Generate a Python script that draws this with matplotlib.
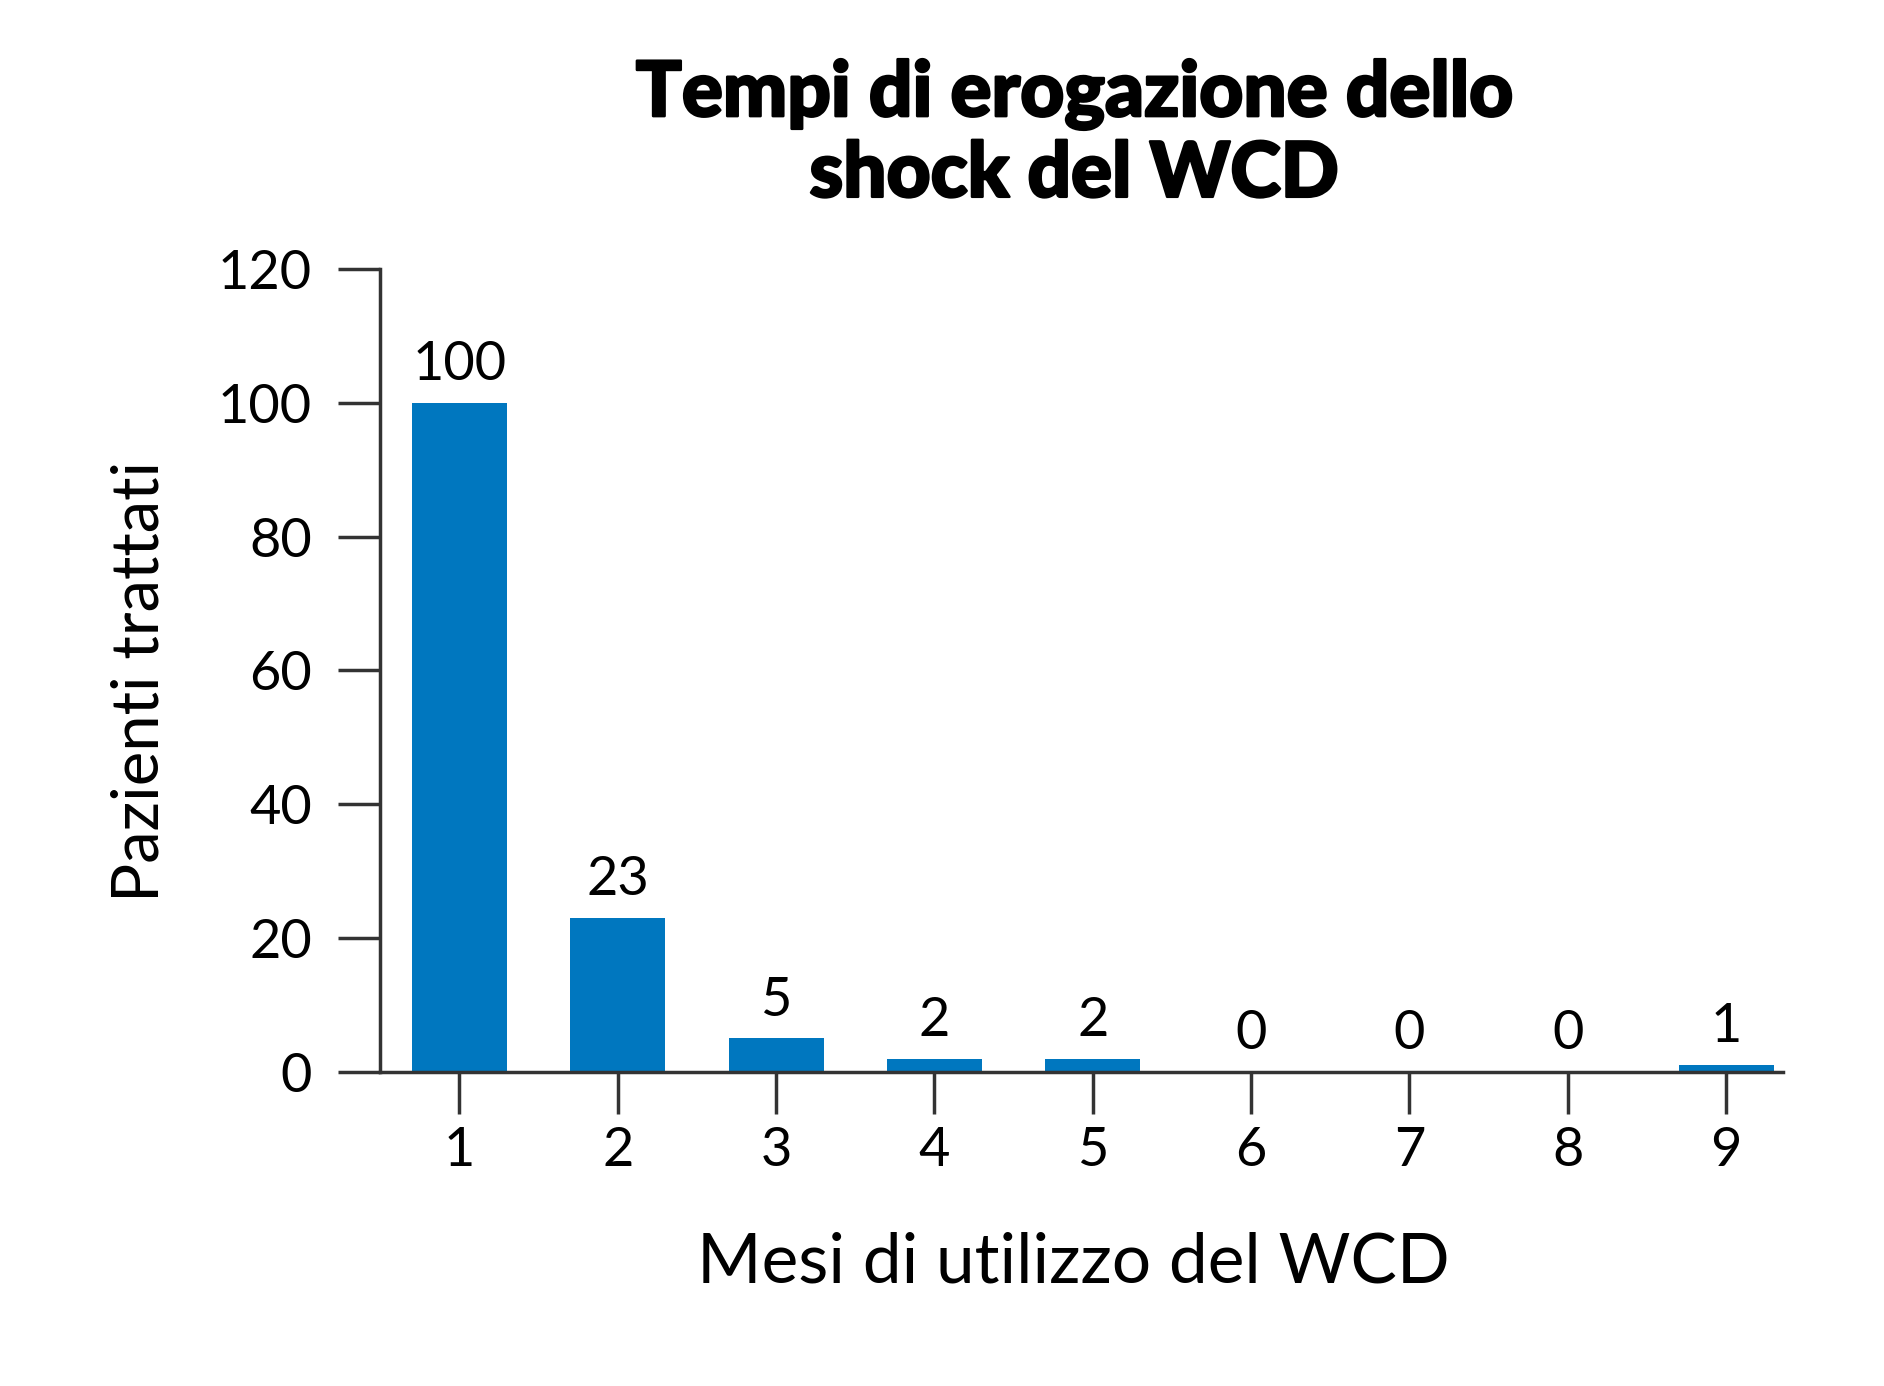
import matplotlib
matplotlib.use("Agg")
import matplotlib.pyplot as plt
import matplotlib.patheffects as pe
from matplotlib import font_manager

# data
months = [1, 2, 3, 4, 5, 6, 7, 8, 9]
patients = [100, 23, 5, 2, 2, 0, 0, 0, 1]
y_ticks = [0, 20, 40, 60, 80, 100, 120]

title = "Tempi di erogazione dello\nshock del WCD"
x_label = "Mesi di utilizzo del WCD"
y_label = "Pazienti trattati"

bar_color = "#0077bf"
axis_color = "#333333"


def heavy_family():
    # pick an installed family that really has a black / extra bold face
    for fam in ("Lato", "Roboto", "Open Sans", "Noto Sans", "Inter"):
        for f in font_manager.fontManager.ttflist:
            if f.name == fam and isinstance(f.weight, int) and f.weight >= 800:
                return fam, f.weight
    return "Lato", "bold"


title_family, title_weight = heavy_family()

plt.rcParams["font.family"] = ["Lato", "DejaVu Sans"]

fig = plt.figure(figsize=(18.84, 13.86), dpi=100)
ax = fig.add_axes([0.2018, 0.2266, 0.7446, 0.5794])

bars = ax.bar(months, patients, width=0.6, color=bar_color, zorder=2)
ax.bar_label(bars, labels=[str(v) for v in patients], padding=10, fontsize=39)

ax.set_xlim(0.5, 9.36)
ax.set_ylim(0, 120)
ax.set_xticks(months)
ax.set_yticks(y_ticks)

for side in ("top", "right"):
    ax.spines[side].set_visible(False)
for side in ("left", "bottom"):
    ax.spines[side].set_color(axis_color)
    ax.spines[side].set_linewidth(2.5)

ax.tick_params(axis="both", colors=axis_color, labelcolor="black", width=2.5,
               length=30, labelsize=39)
ax.tick_params(axis="y", pad=19)
ax.tick_params(axis="x", pad=9)

ax.set_xlabel(x_label, fontsize=50, va="baseline")
ax.xaxis.set_label_coords(0.494, -0.262)
ax.set_ylabel(y_label, fontsize=47, va="baseline")
ax.yaxis.set_label_coords(-0.158, 0.486)

# the reference title face is heavier than any installed one: thicken with a stroke
fig.text(0.570, 0.858, title, ha="center", va="baseline", fontsize=55,
         family=[title_family, "DejaVu Sans"], fontweight=title_weight,
         linespacing=1.17,
         path_effects=[pe.withStroke(linewidth=1.8, foreground="black")])

fig.savefig("out.png", dpi=100)
